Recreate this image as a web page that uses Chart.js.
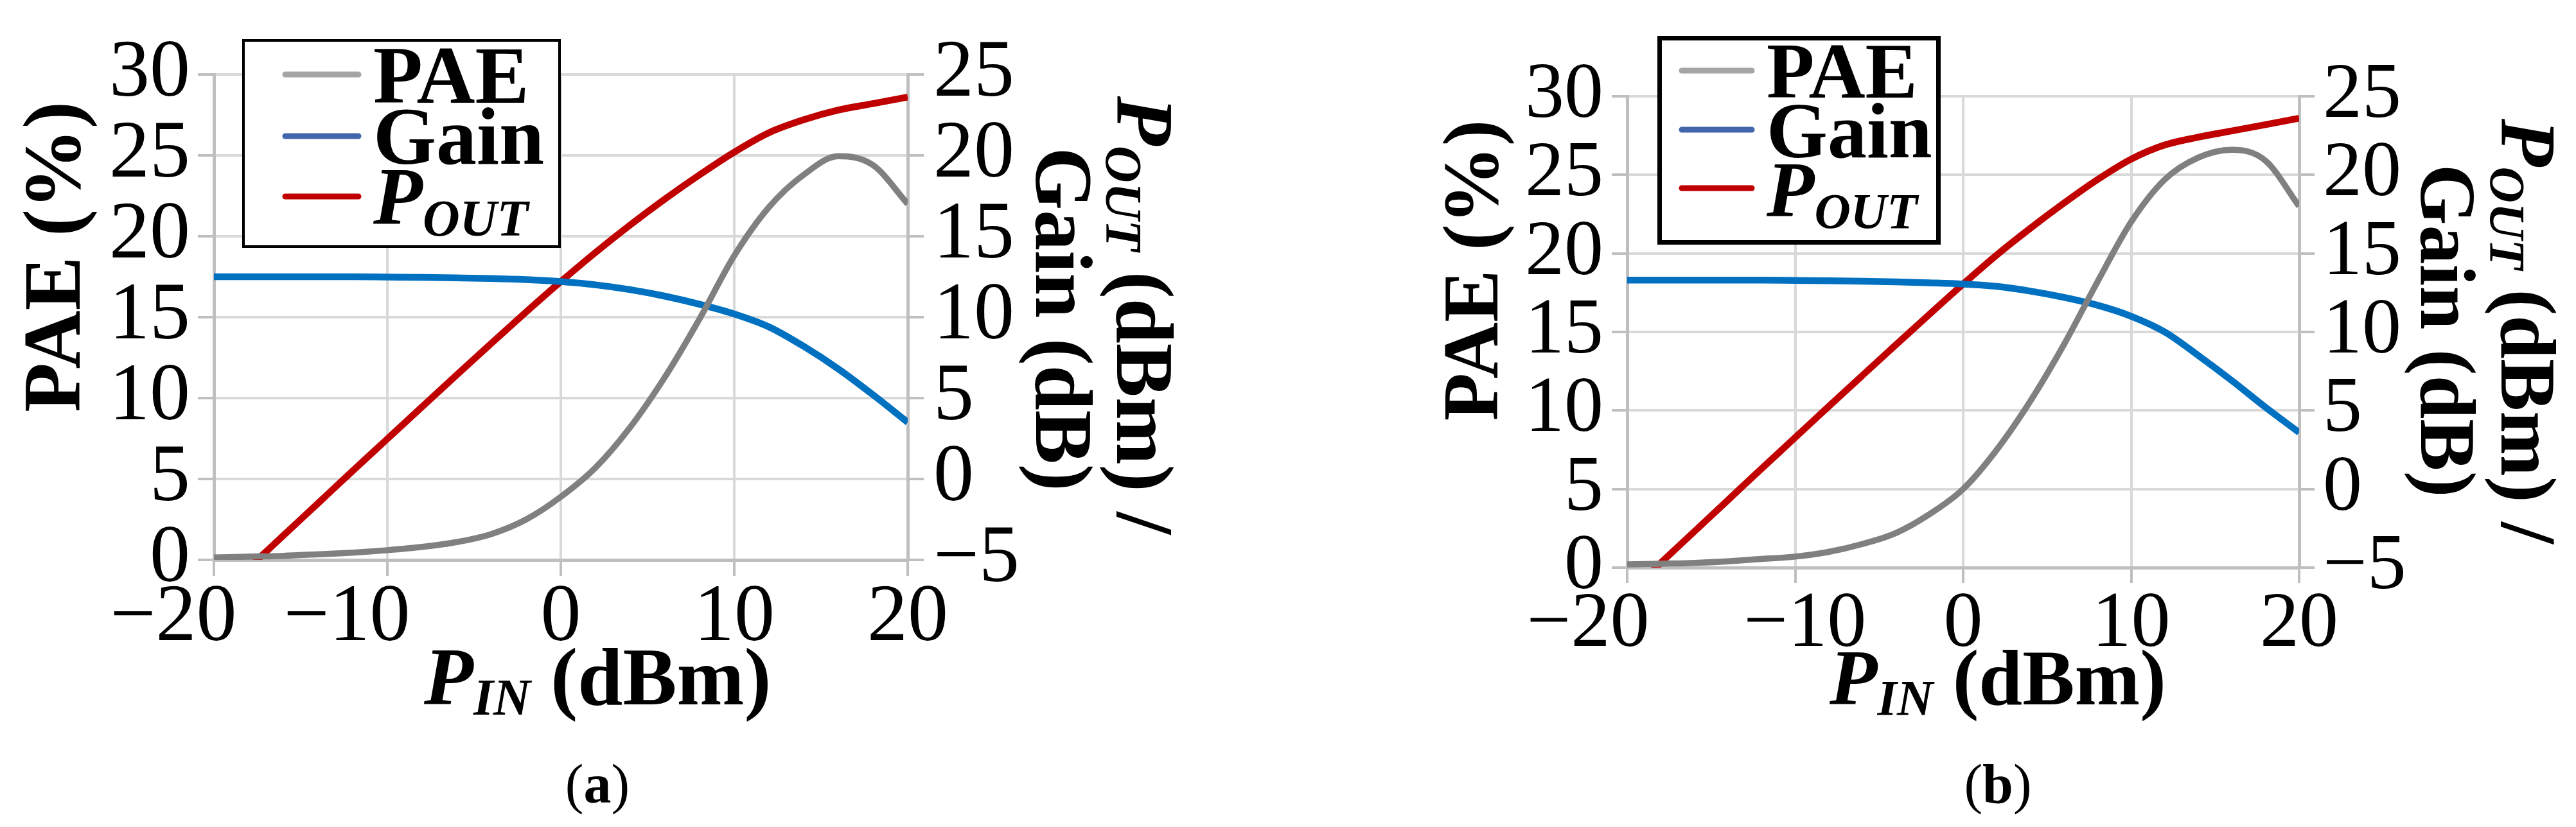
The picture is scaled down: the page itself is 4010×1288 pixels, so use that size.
<!DOCTYPE html>
<html><head><meta charset="utf-8">
<script src="https://cdn.jsdelivr.net/npm/chart.js@4.4.1/dist/chart.umd.min.js"></script>
<style>
html,body{margin:0;padding:0;background:#fff;width:4010px;height:1288px;overflow:hidden}
canvas{position:absolute;top:0}
#ca{left:0}
#cb{left:2000px}
</style></head><body>
<canvas id="ca" width="2000" height="1288"></canvas>
<canvas id="cb" width="2010" height="1288"></canvas>
<script>
// ---------- data ----------
const pinA  = [-20,-18,-16,-14,-12,-10,-8,-6,-4,-2,0,2,4,6,8,10,12,14,16,18,20];
const paeA  = [0.15,0.2,0.25,0.35,0.45,0.6,0.8,1.1,1.6,2.5,3.9,5.7,8.2,11.3,14.9,18.8,21.8,23.8,24.95,24.4,22.0];
const gainA = [12.5,12.5,12.5,12.5,12.5,12.48,12.46,12.43,12.39,12.32,12.2,12.0,11.7,11.3,10.8,10.2,9.4,8.2,6.8,5.2,3.5];
const poutA = [-7.5,-5.5,-3.5,-1.5,0.5,2.48,4.46,6.43,8.39,10.32,12.2,14.0,15.7,17.3,18.8,20.2,21.4,22.2,22.8,23.2,23.6];

const pinB  = [-20,-18,-16,-14,-12,-10,-8,-6,-4,-2,0,2,4,6,8,10,12,14,16,18,20];
const paeB  = [0.2,0.25,0.3,0.4,0.55,0.7,1.0,1.5,2.2,3.4,5.0,7.5,10.6,14.2,18.2,22.0,24.7,26.1,26.6,25.9,23.0];
const gainB = [13.3,13.3,13.3,13.3,13.3,13.28,13.26,13.23,13.19,13.13,13.05,12.9,12.6,12.2,11.7,11.0,10.0,8.5,6.9,5.2,3.6];
const poutB = [-6.7,-4.7,-2.7,-0.7,1.3,3.28,5.26,7.23,9.19,11.13,13.05,14.9,16.6,18.2,19.7,21.0,21.9,22.4,22.8,23.2,23.6];

const xTickValues = [-20,-10,0,10,20];
const xTickLabels = ['\u221220','\u221210','0','10','20'];
const seriesNames = ['PAE','Gain','P'];
const seriesSubs  = ['','','OUT'];
const captions = ['a','b'];

// ---------- drawing ----------
const SERIF = '"Liberation Serif","Times New Roman",serif';
const pts = (xs, ys) => xs.map((x, i) => ({x: x, y: ys[i]}));
const minus = v => String(v).replace('-', '\u2212');
function spacer(label, shift, size) {
  const n = Math.round(Math.abs(shift) / (0.125 * size));
  if (!n) return label;
  return shift < 0 ? label + ' '.repeat(n) : ' '.repeat(n) + label;
}
function rich(ctx, segs, x, y, align) {
  let w = 0;
  segs.forEach(s => { ctx.font = s.f; s.w = ctx.measureText(s.t).width; w += s.w; });
  let cx = align === 'center' ? x - w / 2 : x;
  ctx.textAlign = 'left'; ctx.textBaseline = 'alphabetic';
  segs.forEach(s => { ctx.font = s.f; ctx.fillText(s.t, cx, y + (s.dy || 0)); cx += s.w; });
}

function makeChart(id, d, g) {
  const bold = s => 'bold ' + s + 'px ' + SERIF;
  const bi = s => 'italic bold ' + s + 'px ' + SERIF;
  const reg = s => s + 'px ' + SERIF;
  const tickFont = {family: SERIF, size: g.fs, lineHeight: 1};
  const edgeCol = vals => c => (c.tick && vals.indexOf(c.tick.value) >= 0) ? '#bfbfbf' : '#d9d9d9';
  const gridBase = {lineWidth: 4, tickColor: '#bfbfbf', tickLength: g.tickLen, tickWidth: 4};
  const line = (label, data, axis, color, w) => ({label, data, yAxisID: axis, borderColor: color,
    backgroundColor: color, borderWidth: w, pointRadius: 0, cubicInterpolationMode: 'monotone', fill: false});

  const deco = {
    id: 'deco',
    afterDraw(chart) {
      const ctx = chart.ctx;
      ctx.save();
      ctx.fillStyle = '#000';
      // left title
      ctx.save(); ctx.translate(g.lt.x, g.lt.y); ctx.rotate(-Math.PI / 2);
      rich(ctx, [{t: 'PAE (%)', f: bold(g.fs)}], 0, 0, 'center'); ctx.restore();
      // right title (two lines)
      ctx.save(); ctx.translate(g.rt1.x, g.rt1.y); ctx.rotate(Math.PI / 2);
      rich(ctx, [{t: 'P', f: bi(g.fs)}, {t: 'OUT', f: bi(g.sub), dy: 17}, {t: ' (dBm) /', f: bold(g.fs)}], 0, 0, 'center'); ctx.restore();
      ctx.save(); ctx.translate(g.rt2.x, g.rt2.y); ctx.rotate(Math.PI / 2);
      rich(ctx, [{t: 'Gain (dB)', f: bold(g.fs)}], 0, 0, 'center'); ctx.restore();
      // x title
      rich(ctx, [{t: 'P', f: bi(g.fs)}, {t: 'IN', f: bi(g.sub), dy: 16}, {t: ' (dBm)', f: bold(g.fs)}], g.xt.x, g.xt.y, 'left');
      // caption
      rich(ctx, [{t: '(', f: reg(86)}, {t: d.cap, f: bold(86)}, {t: ')', f: reg(86)}], g.cap.x, g.cap.y, 'center');
      // legend
      const L = g.leg;
      ctx.fillStyle = '#fff';
      ctx.fillRect(L.x0, L.y0, L.x1 - L.x0, L.y1 - L.y0);
      ctx.lineWidth = L.bw; ctx.strokeStyle = '#000';
      ctx.strokeRect(L.x0 + L.bw / 2, L.y0 + L.bw / 2, L.x1 - L.x0 - L.bw, L.y1 - L.y0 - L.bw);
      const cols = ['#a5a5a5', '#4266ab', '#c00000'];
      ctx.lineCap = 'round'; ctx.lineWidth = 9;
      for (let i = 0; i < 3; i++) {
        ctx.strokeStyle = cols[i];
        ctx.beginPath(); ctx.moveTo(L.lx0, L.ly[i]); ctx.lineTo(L.lx1, L.ly[i]); ctx.stroke();
        ctx.fillStyle = '#000';
        const segs = seriesSubs[i]
          ? [{t: seriesNames[i], f: bi(g.fs)}, {t: seriesSubs[i], f: bi(g.sub), dy: 18}]
          : [{t: seriesNames[i], f: bold(g.fs)}];
        rich(ctx, segs, L.tx, L.ty[i], 'left');
      }
      ctx.restore();
    }
  };

  return new Chart(document.getElementById(id), {
    type: 'line',
    data: {datasets: [
      line('PAE', pts(d.pin, d.pae), 'yL', '#808080', 9.5),
      line('Gain', pts(d.pin, d.gain), 'yR', '#0070c0', 10.5),
      line('POUT', pts(d.pin, d.pout), 'yR', '#c00000', 10.5)
    ]},
    options: {
      responsive: false, animation: false, devicePixelRatio: 1,
      layout: {padding: {left: 0, top: g.top, right: g.W - g.right - 300, bottom: 1288 - g.bottom - 200}},
      plugins: {legend: {display: false}, tooltip: {enabled: false}},
      scales: {
        x: {type: 'linear', position: 'bottom', min: -20, max: 20,
          ticks: {stepSize: 10, autoSkip: false, maxRotation: 0, minRotation: 0, padding: g.padX, color: '#000', font: tickFont,
            callback: v => { const i = xTickValues.indexOf(v); return i < 0 ? '' : spacer(xTickLabels[i], g.xShift[i], g.fs); }},
          grid: Object.assign({color: edgeCol([-20, 20])}, gridBase),
          border: {color: '#bfbfbf', width: 5},
          afterFit: s => { s.height = 200; }},
        yL: {type: 'linear', position: 'left', min: 0, max: 30,
          ticks: {stepSize: 5, autoSkip: false, padding: g.padY, color: '#000', font: tickFont, callback: v => minus(v)},
          grid: Object.assign({color: edgeCol([0])}, gridBase),
          border: {color: '#bfbfbf', width: 5},
          afterFit: s => { s.width = g.left; }},
        yR: {type: 'linear', position: 'right', min: -5, max: 25,
          ticks: {stepSize: 5, autoSkip: false, padding: g.padYR, color: '#000', font: tickFont, callback: v => minus(v)},
          grid: Object.assign({drawOnChartArea: false, color: '#d9d9d9'}, gridBase),
          border: {color: '#bfbfbf', width: 5},
          afterFit: s => { s.width = 300; }}
      }
    },
    plugins: [deco]
  });
}

makeChart('ca', {pin: pinA, pae: paeA, gain: gainA, pout: poutA, cap: captions[0]}, {
  W: 2000, left: 333, right: 1413, top: 116, bottom: 872, fs: 126, sub: 80, tickLen: 25,
  padY: 12, padYR: 15, padX: 4, xShift: [-63, -60, 0, 0, 0],
  lt: {x: 124, y: 400}, rt1: {x: 1739, y: 491}, rt2: {x: 1613, y: 497},
  xt: {x: 660, y: 1097}, cap: {x: 930, y: 1250},
  leg: {x0: 377, y0: 61, x1: 873, y1: 386, bw: 4, lx0: 444, lx1: 558, ly: [116, 212, 306], tx: 581, ty: [160, 255, 349]}
});
makeChart('cb', {pin: pinB, pae: paeB, gain: gainB, pout: poutB, cap: captions[1]}, {
  W: 2010, left: 533, right: 1579, top: 150, bottom: 884, fs: 122, sub: 78, tickLen: 24,
  padY: 13, padYR: 13, padX: 5, xShift: [-58, 15, 0, 0, 0],
  lt: {x: 331, y: 421}, rt1: {x: 1894, y: 516}, rt2: {x: 1769, y: 515},
  xt: {x: 848, y: 1097}, cap: {x: 1110, y: 1250},
  leg: {x0: 580, y0: 56, x1: 1021, y1: 381, bw: 7, lx0: 618, lx1: 727, ly: [110, 202, 293], tx: 750, ty: [152, 245, 337]}
});
</script>
</body></html>
